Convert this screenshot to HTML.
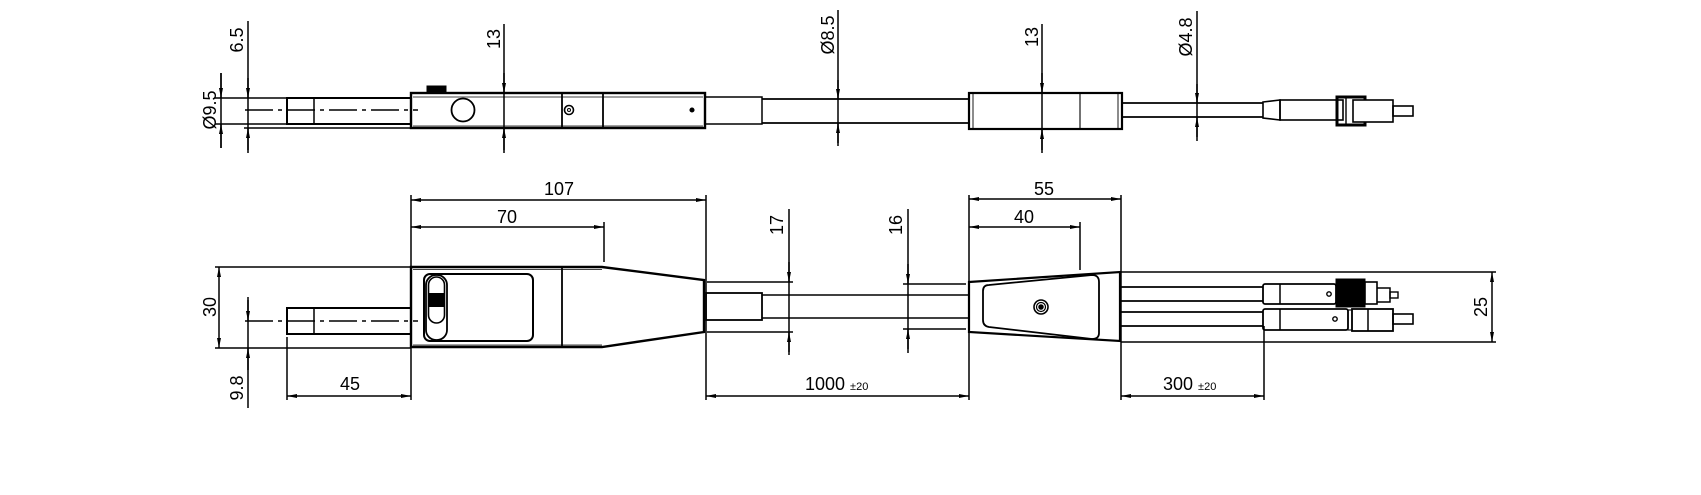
<!DOCTYPE html>
<html><head><meta charset="utf-8"><style>
html,body{margin:0;padding:0;background:#fff}
svg{display:block}
text{font-family:"Liberation Sans",Arial,sans-serif;font-size:18px;fill:#000}
.s{font-size:11px}
</style></head><body>
<svg width="1701" height="495" viewBox="0 0 1701 495" xmlns="http://www.w3.org/2000/svg">
<defs>
<marker id="a" viewBox="0 0 10 4" refX="10" refY="2" markerWidth="10" markerHeight="4" markerUnits="userSpaceOnUse" orient="auto-start-reverse"><path d="M0,0 L10,2 L0,4 z" fill="#000"/></marker>
</defs>
<g fill="none" stroke="#000" stroke-width="1.5">
<!-- ========== TOP VIEW ========== -->
<line x1="221" y1="73" x2="221" y2="148"/>
<line x1="221" y1="73" x2="221" y2="98" marker-end="url(#a)"/>
<line x1="221" y1="148" x2="221" y2="124" marker-end="url(#a)"/>
<line x1="248" y1="21" x2="248" y2="153"/>
<line x1="248" y1="78" x2="248" y2="98" marker-end="url(#a)"/>
<line x1="248" y1="150" x2="248" y2="128" marker-end="url(#a)"/>
<line x1="215" y1="98" x2="287" y2="98"/>
<line x1="215" y1="124" x2="287" y2="124"/>
<line x1="244" y1="128" x2="411" y2="128"/>
<line x1="245" y1="110" x2="418" y2="110" stroke-dasharray="28,5,4,5"/>
<rect x="287" y="98" width="124" height="26" stroke-width="2"/>
<line x1="314" y1="98" x2="314" y2="124"/>
<rect x="411" y="93" width="294" height="35" stroke-width="2.4"/>
<line x1="413" y1="97" x2="703" y2="97" stroke-width="0.8"/>
<line x1="413" y1="126" x2="703" y2="126" stroke-width="0.8"/>
<line x1="562" y1="93" x2="562" y2="128" stroke-width="1.8"/>
<line x1="603" y1="93" x2="603" y2="128" stroke-width="1.8"/>
<circle cx="463" cy="110" r="11.5" stroke-width="1.8"/>
<circle cx="569" cy="110" r="4.5" stroke-width="1.6"/>
<circle cx="569" cy="110" r="1.5" stroke-width="1"/>
<circle cx="692" cy="110" r="1.8" fill="#000"/>
<rect x="427" y="86" width="19" height="7" fill="#000" stroke-width="1"/>
<line x1="504" y1="24" x2="504" y2="153"/>
<line x1="504" y1="73" x2="504" y2="93" marker-end="url(#a)"/>
<line x1="504" y1="150" x2="504" y2="128" marker-end="url(#a)"/>
<rect x="705" y="97" width="57" height="27" stroke-width="1.5"/>
<line x1="762" y1="99" x2="969" y2="99" stroke-width="1.8"/>
<line x1="762" y1="123" x2="969" y2="123" stroke-width="1.8"/>
<line x1="838" y1="10" x2="838" y2="146"/>
<line x1="838" y1="80" x2="838" y2="99" marker-end="url(#a)"/>
<line x1="838" y1="143" x2="838" y2="123" marker-end="url(#a)"/>
<rect x="969" y="93" width="153" height="36" stroke-width="2.2"/>
<line x1="973" y1="93" x2="973" y2="129" stroke-width="0.9"/>
<line x1="1118" y1="93" x2="1118" y2="129" stroke-width="0.9"/>
<line x1="1080" y1="93" x2="1080" y2="129" stroke-width="1.1"/>
<line x1="1042" y1="24" x2="1042" y2="153"/>
<line x1="1042" y1="73" x2="1042" y2="93" marker-end="url(#a)"/>
<line x1="1042" y1="150" x2="1042" y2="129" marker-end="url(#a)"/>
<line x1="1122" y1="103" x2="1263" y2="103" stroke-width="1.8"/>
<line x1="1122" y1="117" x2="1263" y2="117" stroke-width="1.8"/>
<line x1="1197" y1="11" x2="1197" y2="141"/>
<line x1="1197" y1="84" x2="1197" y2="103" marker-end="url(#a)"/>
<line x1="1197" y1="137" x2="1197" y2="117" marker-end="url(#a)"/>
<path d="M1263,102 L1280,100 L1280,120 L1263,118 Z" stroke-width="1.6"/>
<rect x="1280" y="100" width="63" height="20" stroke-width="1.6"/>
<rect x="1337" y="97" width="28" height="28" stroke-width="3"/>
<rect x="1353" y="100" width="40" height="22" stroke-width="1.6" fill="#fff"/>
<line x1="1346" y1="98" x2="1346" y2="124" stroke-width="1.4"/>
<rect x="1393" y="106" width="20" height="10" stroke-width="1.6"/>
<!-- ========== BOTTOM VIEW ========== -->
<line x1="411" y1="195" x2="411" y2="400"/>
<line x1="706" y1="195" x2="706" y2="400"/>
<line x1="411" y1="200" x2="706" y2="200" marker-start="url(#a)" marker-end="url(#a)"/>
<line x1="411" y1="227" x2="604" y2="227" marker-start="url(#a)" marker-end="url(#a)"/>
<line x1="604" y1="222" x2="604" y2="262"/>
<line x1="215" y1="267" x2="411" y2="267"/>
<line x1="215" y1="348" x2="411" y2="348"/>
<line x1="219" y1="267" x2="219" y2="348" marker-start="url(#a)" marker-end="url(#a)"/>
<line x1="248" y1="297" x2="248" y2="408"/>
<line x1="248" y1="300" x2="248" y2="321" marker-end="url(#a)"/>
<line x1="248" y1="370" x2="248" y2="348" marker-end="url(#a)"/>
<rect x="287" y="308" width="124" height="26" stroke-width="2"/>
<line x1="314" y1="308" x2="314" y2="334"/>
<line x1="245" y1="321" x2="418" y2="321" stroke-dasharray="28,5,4,5"/>
<line x1="287" y1="337" x2="287" y2="400"/>
<line x1="287" y1="396" x2="411" y2="396" marker-start="url(#a)" marker-end="url(#a)"/>
<path d="M411,267 L602,267 L704,280 L704,332 L602,347 L411,347 Z" stroke-width="2.4"/>
<line x1="413" y1="269.5" x2="602" y2="269.5" stroke-width="0.8"/>
<line x1="413" y1="345" x2="602" y2="345" stroke-width="0.8"/>
<line x1="562" y1="267" x2="562" y2="347" stroke-width="1.8"/>
<rect x="424" y="274" width="109" height="67" rx="6" stroke-width="2"/>
<rect x="426" y="275" width="21" height="65" rx="10" stroke-width="1.8" fill="#fff"/>
<rect x="428.5" y="277" width="16" height="46" rx="8" stroke-width="1.6"/>
<rect x="428.5" y="293" width="16" height="14" fill="#000" stroke="none"/>
<line x1="707" y1="282" x2="793" y2="282"/>
<line x1="707" y1="332" x2="793" y2="332"/>
<rect x="706" y="293" width="56" height="27" stroke-width="1.8"/>
<line x1="762" y1="295" x2="969" y2="295" stroke-width="1.5"/>
<line x1="762" y1="318" x2="969" y2="318" stroke-width="1.5"/>
<line x1="789" y1="209" x2="789" y2="355"/>
<line x1="789" y1="262" x2="789" y2="282" marker-end="url(#a)"/>
<line x1="789" y1="352" x2="789" y2="332" marker-end="url(#a)"/>
<line x1="903" y1="284" x2="966" y2="284"/>
<line x1="903" y1="329" x2="966" y2="329"/>
<line x1="908" y1="209" x2="908" y2="353"/>
<line x1="908" y1="264" x2="908" y2="284" marker-end="url(#a)"/>
<line x1="908" y1="349" x2="908" y2="329" marker-end="url(#a)"/>
<line x1="969" y1="195" x2="969" y2="400"/>
<line x1="706" y1="396" x2="969" y2="396" marker-start="url(#a)" marker-end="url(#a)"/>
<path d="M969,282 L1120,272 L1120,341 L969,332 Z" stroke-width="2.2"/>
<path d="M989,285 L1092,275 Q1099,275 1099,282 L1099,333 Q1099,339 1092,339 L989,327 Q983,326 983,320 L983,291 Q983,285 989,285 Z" stroke-width="1.8"/>
<circle cx="1041" cy="307" r="7" stroke-width="1.6"/>
<circle cx="1041" cy="307" r="4.5" stroke-width="1.2"/>
<circle cx="1041" cy="307" r="2" fill="#000"/>
<line x1="1121" y1="195" x2="1121" y2="400"/>
<line x1="969" y1="199" x2="1121" y2="199" marker-start="url(#a)" marker-end="url(#a)"/>
<line x1="969" y1="227" x2="1080" y2="227" marker-start="url(#a)" marker-end="url(#a)"/>
<line x1="1080" y1="222" x2="1080" y2="270"/>
<line x1="1121" y1="272" x2="1496" y2="272"/>
<line x1="1121" y1="342" x2="1496" y2="342"/>
<line x1="1492" y1="272" x2="1492" y2="342" marker-start="url(#a)" marker-end="url(#a)"/>
<line x1="1121" y1="287" x2="1263" y2="287" stroke-width="1.8"/>
<line x1="1121" y1="301" x2="1263" y2="301" stroke-width="1.8"/>
<line x1="1121" y1="312" x2="1263" y2="312" stroke-width="1.8"/>
<line x1="1121" y1="326" x2="1263" y2="326" stroke-width="1.8"/>
<line x1="1264" y1="326" x2="1264" y2="400"/>
<line x1="1121" y1="396" x2="1264" y2="396" marker-start="url(#a)" marker-end="url(#a)"/>
<rect x="1263" y="284" width="73" height="20" rx="2" stroke-width="1.8"/>
<line x1="1280" y1="284" x2="1280" y2="304"/>
<circle cx="1329" cy="294" r="2.2" stroke-width="1.4"/>
<rect x="1336" y="279" width="29" height="28" fill="#000" stroke-width="1"/>
<rect x="1365" y="282" width="12" height="22" stroke-width="1.6"/>
<path d="M1377,288 L1390,288 L1390,302 L1377,302" stroke-width="1.5"/>
<rect x="1390" y="292" width="8" height="6" stroke-width="1.4"/>
<rect x="1263" y="309" width="85" height="21" rx="2" stroke-width="1.8"/>
<line x1="1280" y1="309" x2="1280" y2="330"/>
<circle cx="1335" cy="319" r="2.2" stroke-width="1.4"/>
<rect x="1348" y="310" width="4" height="20" stroke-width="1.1"/>
<rect x="1352" y="309" width="41" height="22" stroke-width="1.8"/>
<line x1="1368" y1="309" x2="1368" y2="331"/>
<rect x="1393" y="314" width="20" height="10" stroke-width="1.6"/>
</g>
<g>
<text transform="translate(243,40) rotate(-90)" text-anchor="middle">6.5</text>
<text transform="translate(216,110) rotate(-90)" text-anchor="middle">Ø9.5</text>
<text transform="translate(500,39) rotate(-90)" text-anchor="middle">13</text>
<text transform="translate(834,35) rotate(-90)" text-anchor="middle">Ø8.5</text>
<text transform="translate(1038,37) rotate(-90)" text-anchor="middle">13</text>
<text transform="translate(1192,37) rotate(-90)" text-anchor="middle">Ø4.8</text>
<text x="559" y="195" text-anchor="middle">107</text>
<text x="507" y="223" text-anchor="middle">70</text>
<text transform="translate(216,307) rotate(-90)" text-anchor="middle">30</text>
<text transform="translate(243,388) rotate(-90)" text-anchor="middle">9.8</text>
<text x="350" y="390" text-anchor="middle">45</text>
<text transform="translate(783,225) rotate(-90)" text-anchor="middle">17</text>
<text transform="translate(902,225) rotate(-90)" text-anchor="middle">16</text>
<text x="1044" y="195" text-anchor="middle">55</text>
<text x="1024" y="223" text-anchor="middle">40</text>
<text transform="translate(1487,307) rotate(-90)" text-anchor="middle">25</text>
<text x="805" y="390">1000 <tspan class="s">±20</tspan></text>
<text x="1163" y="390">300 <tspan class="s">±20</tspan></text>
</g>
</svg>
</body></html>
